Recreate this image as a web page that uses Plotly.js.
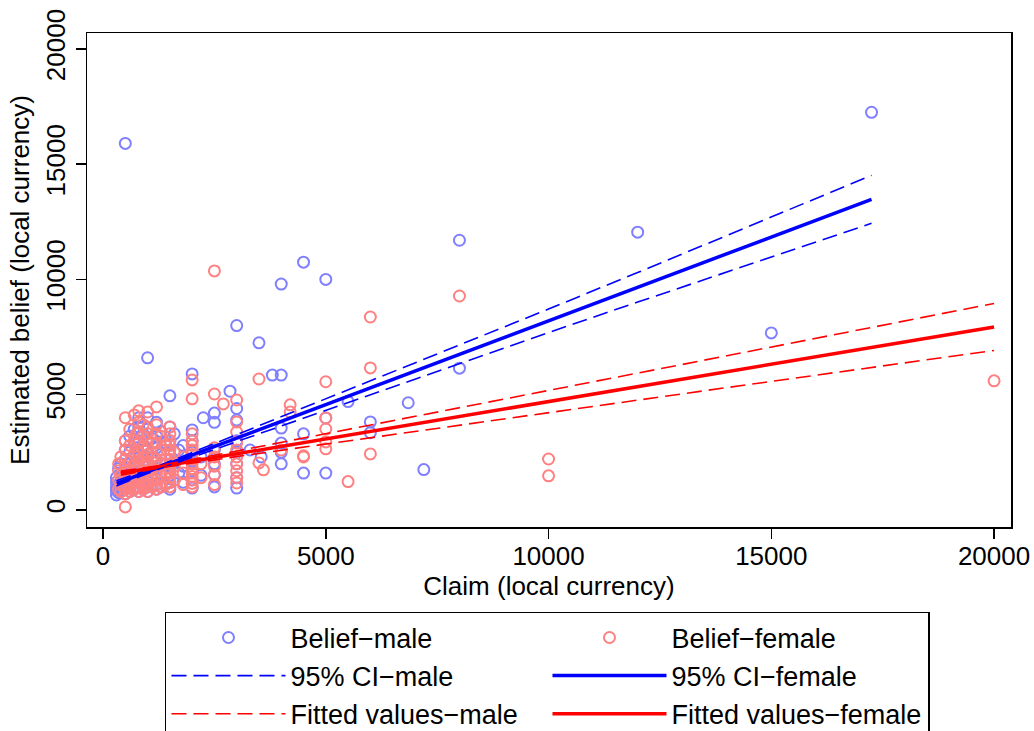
<!DOCTYPE html>
<html>
<head>
<meta charset="utf-8">
<script src="https://cdn.plot.ly/plotly-3.0.1.min.js"></script>
<style>html,body{margin:0;padding:0;background:#fff;}#chart{width:1034px;height:731px;}</style>
</head>
<body>
<div id="chart"></div>
<script>
// ---- Data ----
const maleClaim = [
  500, 17250, 12000, 8000, 4500, 5000, 4000, 3000, 15000, 3500, 1000, 8000, 2000, 3800, 4000, 6850, 5500, 2850, 1500,
  6000, 6000, 4500, 7200, 4500, 5000, 3000, 4000, 4000, 4000, 3000, 3000, 2500, 2500, 2250, 3300, 3550, 4000, 5000,
  300, 300, 300, 300, 300,
  350, 350, 350,
  400, 400, 400, 400, 400,
  450, 450,
  500, 500, 500, 500, 500, 500, 500, 500, 500,
  600, 600, 600, 600, 600, 600,
  700, 700, 700, 700, 700, 700,
  750, 750, 750, 750,
  800, 800, 800, 800, 800, 800, 800, 800, 800,
  900, 900, 900, 900, 900, 900,
  1000, 1000, 1000, 1000, 1000, 1000, 1000, 1000, 1000, 1000, 1000,
  1100, 1100, 1100, 1100,
  1200, 1200, 1200, 1200, 1200, 1200, 1200, 1200,
  1300, 1300, 1300, 1300,
  1400, 1400, 1400, 1400,
  1500, 1500, 1500, 1500, 1500, 1500, 1500,
  1600, 1600, 1600,
  1700, 1700,
  1800, 1800, 1800,
  2000, 2000, 2000, 2000, 2000, 2000, 2000,
  2200, 2200,
  2500, 2500, 2500, 2500,
  3000, 3000, 3000, 3000
];
const maleBelief = [
  15900, 17250, 12050, 11700, 10750, 10000, 9800, 8000, 7680, 7250, 6600, 6150, 5900, 5850, 5850, 4650, 4700, 5150, 4950,
  3820, 3350, 3300, 1750, 1600, 1600, 950, 2000, 2900, 3550, 4400, 3900, 4200, 3800, 4000, 2600, 2300, 2500, 3990,
  650, 850, 1000, 1200, 1400,
  750, 1100, 1800,
  800, 950, 1300, 1600, 2000,
  900, 1500,
  700, 900, 1000, 1200, 1500, 1800, 2200, 2600, 3000,
  800, 1100, 1400, 2000, 2500, 3200,
  900, 1200, 1700, 2300, 2900, 3500,
  1000, 1500, 2000, 2700,
  800, 1000, 1300, 1600, 2000, 2500, 3000, 3600, 4000,
  900, 1200, 1600, 2100, 2800, 3300,
  800, 1000, 1200, 1400, 1700, 2000, 2300, 2600, 3000, 3500, 4000,
  1000, 1500, 2200, 3100,
  900, 1100, 1400, 1800, 2200, 2700, 3200, 3800,
  1000, 1600, 2400, 3400,
  1100, 1500, 2000, 2900,
  900, 1200, 1500, 1900, 2400, 3000, 3600,
  1300, 2100, 3300,
  1600, 2600,
  1200, 1900, 2800,
  950, 1300, 1700, 2100, 2500, 3000, 3470,
  1500, 2300,
  1000, 1520, 2000, 2600,
  1400, 2000, 2500, 3000
];
const femaleClaim = [
  20000, 2500, 8000, 6000, 6000, 6000, 10000, 10000, 5500, 5000, 5000, 5000, 5000, 5000, 4500, 4500, 4200, 4200,
  4000, 3600, 3500, 3500, 2700,
  350, 350, 350, 350,
  400, 400, 400, 400,
  500, 500, 500, 500, 500, 500, 500, 500, 500, 500, 500,
  600, 600, 600, 600, 600, 600, 600,
  700, 700, 700, 700, 700, 700, 700,
  750, 750, 750, 750, 750, 750,
  800, 800, 800, 800, 800, 800, 800, 800, 800, 800, 800,
  900, 900, 900, 900, 900, 900, 900, 900,
  1000, 1000, 1000, 1000, 1000, 1000, 1000, 1000, 1000, 1000, 1000, 1000, 1000, 1000,
  1100, 1100, 1100, 1100, 1100,
  1200, 1200, 1200, 1200, 1200, 1200, 1200, 1200, 1200, 1200, 1200,
  1300, 1300, 1300, 1300, 1300,
  1400, 1400, 1400, 1400,
  1500, 1500, 1500, 1500, 1500, 1500, 1500, 1500, 1500, 1500, 1500, 1500, 1500,
  1600, 1600, 1600,
  1800, 1800, 1800,
  2000, 2000, 2000, 2000, 2000, 2000, 2000, 2000, 2000, 2000, 2000, 2000, 2000, 2000, 2000,
  2200, 2200,
  2500, 2500, 2500, 2500, 2500, 2500,
  3000, 3000, 3000, 3000, 3000, 3000, 3000, 3000, 3000, 3000
];
const femaleBelief = [
  5600, 10370, 9280, 8370, 6160, 2430, 2210, 1480, 1230, 5560, 3990, 3510, 2950, 2650, 2300, 2350, 4560, 4250,
  2600, 1740, 5680, 2040, 4600,
  900, 1300, 1700, 2000,
  800, 1100, 1500, 2300,
  130, 700, 900, 1100, 1300, 1600, 1900, 2200, 2600, 3000, 4000,
  800, 1000, 1400, 1700, 2100, 2800, 3500,
  900, 1200, 1500, 1900, 2400, 3000, 4120,
  1000, 1300, 1800, 2300, 2600, 3300,
  800, 1000, 1200, 1500, 1800, 2100, 2500, 2900, 3400, 3800, 4300,
  900, 1200, 1500, 1900, 2300, 2700, 3200, 3700,
  800, 1000, 1100, 1300, 1500, 1700, 1900, 2100, 2400, 2700, 3000, 3300, 3600, 4250,
  1000, 1400, 1800, 2300, 2900,
  900, 1100, 1300, 1600, 1900, 2200, 2500, 2900, 3300, 3700, 4470,
  1000, 1500, 2000, 2600, 3200,
  1100, 1600, 2200, 2800,
  1000, 1200, 1400, 1600, 1800, 2000, 2200, 2400, 2600, 2800, 3000, 3300, 3600,
  1300, 1900, 2500,
  1100, 1600, 2300,
  1000, 1150, 1300, 1450, 1600, 1800, 2000, 2200, 2400, 2600, 2800, 3000, 3300, 4820, 5640,
  1400, 2000,
  1100, 1520, 1900, 2300, 2700, 5030,
  1170, 1400, 1700, 2000, 2300, 2600, 2900, 3380, 3820, 4770
];

// Fitted lines and confidence bands
const maleFitClaim = [307, 17250];
const maleFitBelief = [1157, 13474];
const maleBandClaim = [300, 1200, 3000, 5000, 8000, 10000, 12000, 17250];
const maleBandUpper = [1262, 1876, 3265, 4819, 7150, 8714, 10298, 14514];
const maleBandLower = [1042, 1736, 2965, 4319, 6350, 7694, 9018, 12434];

const femaleFitClaim = [397, 20000];
const femaleFitBelief = [1592, 7939];
const femaleBandClaim = [400, 1200, 3000, 5000, 8000, 10500, 14000, 20000];
const femaleBandUpper = [1683, 1902, 2555, 3302, 4424, 5368, 6687, 8959];
const femaleBandLower = [1503, 1802, 2315, 2862, 3684, 4358, 5307, 6919];

const xTicks = [0, 5000, 10000, 15000, 20000];
const yTicks = [0, 5000, 10000, 15000, 20000];
const seriesNames = ['Belief\u2212male', 'Belief\u2212female', '95% CI\u2212male', '95% CI\u2212female',
                     'Fitted values\u2212male', 'Fitted values\u2212female'];

// ---- Styles ----
const FONT = 'Liberation Sans, Arial, Helvetica, sans-serif';
const maleMarker = '#8080ff', femaleMarker = '#ff8080';
const dashPat = '15px,7px';

const traces = [
  {x: maleClaim, y: maleBelief, type: 'scatter', mode: 'markers', name: seriesNames[0],
   marker: {symbol: 'circle-open', size: 11, color: maleMarker, line: {width: 2, color: maleMarker}}},
  {x: femaleClaim, y: femaleBelief, type: 'scatter', mode: 'markers', name: seriesNames[1],
   marker: {symbol: 'circle-open', size: 11, color: femaleMarker, line: {width: 2, color: femaleMarker}}},
  {x: maleBandClaim, y: maleBandUpper, type: 'scatter', mode: 'lines', name: seriesNames[2],
   line: {color: '#0000ff', width: 1.6, dash: dashPat}},
  {x: maleFitClaim, y: maleFitBelief, type: 'scatter', mode: 'lines', name: seriesNames[3],
   line: {color: '#0000ff', width: 3.5}},
  {x: femaleBandClaim, y: femaleBandUpper, type: 'scatter', mode: 'lines', name: seriesNames[4],
   line: {color: '#ff0000', width: 1.6, dash: dashPat}},
  {x: femaleFitClaim, y: femaleFitBelief, type: 'scatter', mode: 'lines', name: seriesNames[5],
   line: {color: '#ff0000', width: 3.5}},
  {x: maleBandClaim, y: maleBandLower, type: 'scatter', mode: 'lines', showlegend: false,
   line: {color: '#0000ff', width: 1.6, dash: dashPat}},
  {x: femaleBandClaim, y: femaleBandLower, type: 'scatter', mode: 'lines', showlegend: false,
   line: {color: '#ff0000', width: 1.6, dash: dashPat}}
];

const axisCommon = {
  showgrid: false, zeroline: false, showline: true, mirror: true,
  linecolor: '#000', linewidth: 1.5,
  ticks: 'outside', ticklen: 10, tickwidth: 1.5, tickcolor: '#000',
  tickfont: {family: FONT, size: 26, color: '#000'},
  tickmode: 'array', automargin: false
};

const layout = {
  width: 1034, height: 731,
  paper_bgcolor: '#fff', plot_bgcolor: '#fff',
  margin: {l: 87, r: 23, t: 33, b: 204, autoexpand: false},
  font: {family: FONT, size: 26, color: '#000'},
  showlegend: true,
  xaxis: Object.assign({}, axisCommon, {
    range: [-360, 20380], tickvals: xTicks, ticktext: xTicks.map(String), ticklabelstandoff: -5,
    title: {text: 'Claim (local currency)', font: {family: FONT, size: 26, color: '#000'}, standoff: 0}
  }),
  yaxis: Object.assign({}, axisCommon, {
    range: [-740, 20690], tickvals: yTicks, ticktext: yTicks.map(String), tickangle: -90,
    title: {text: 'Estimated belief (local currency)', font: {family: FONT, size: 26, color: '#000'}, standoff: 4}
  }),
  legend: {
    orientation: 'h', x: 0.0844, y: -0.172, xanchor: 'left', yanchor: 'top',
    entrywidth: 252, entrywidthmode: 'pixels', itemwidth: 114,
    bordercolor: '#000', borderwidth: 1.5, bgcolor: '#fff',
    font: {family: FONT, size: 27, color: '#000'}, traceorder: 'normal'
  }
};

Plotly.newPlot('chart', traces, layout, {displayModeBar: false, staticPlot: true});
</script>
</body>
</html>
